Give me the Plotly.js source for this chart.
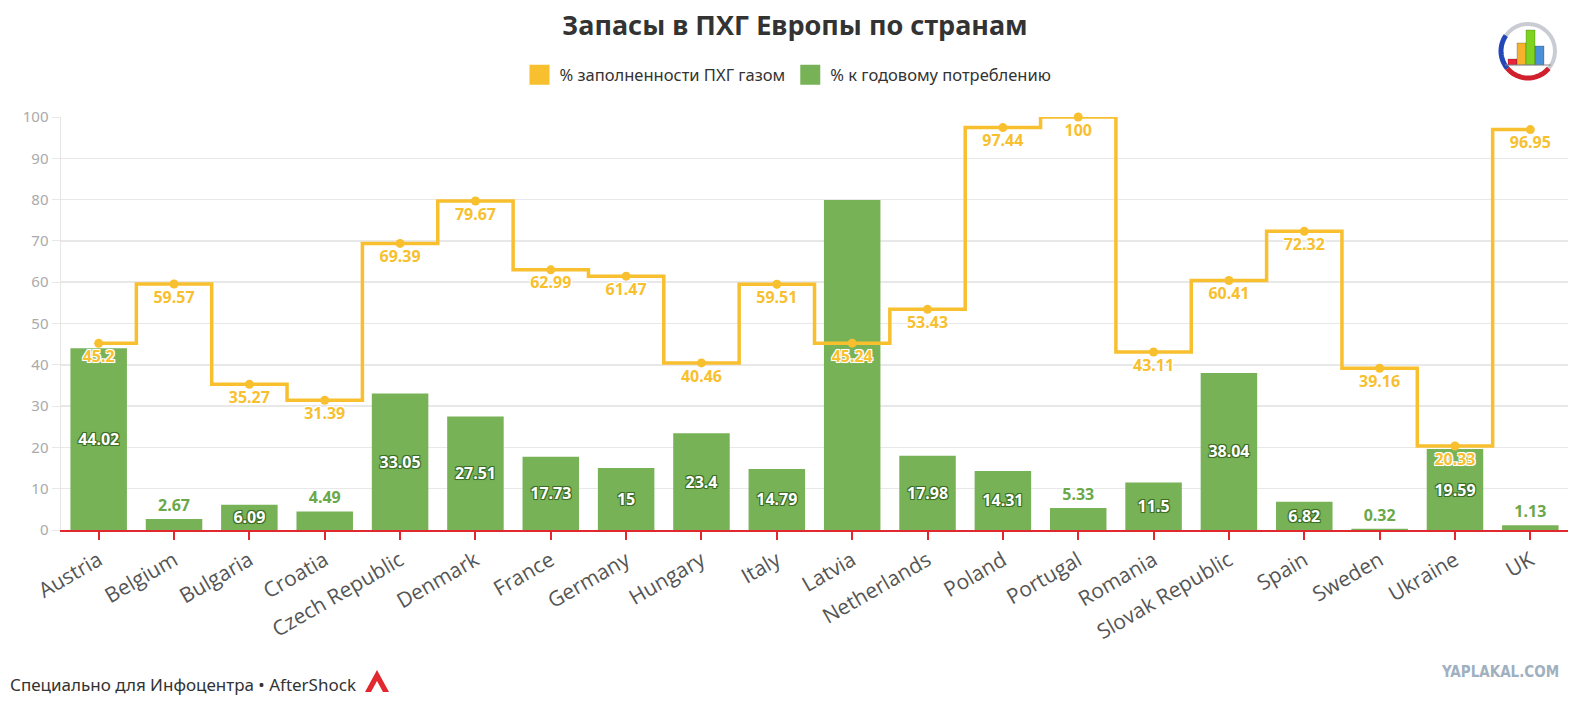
<!DOCTYPE html>
<html>
<head>
<meta charset="utf-8">
<script src="https://cdn.plot.ly/plotly-3.0.1.min.js"></script>
<style>html,body{margin:0;padding:0;background:#fff;overflow:hidden;width:1586px;height:702px;}#chart{width:1586px;height:702px;}</style>
</head>
<body>
<div id="chart"></div>
<script>
const countries = ["Austria","Belgium","Bulgaria","Croatia","Czech Republic","Denmark","France","Germany","Hungary","Italy","Latvia","Netherlands","Poland","Portugal","Romania","Slovak Republic","Spain","Sweden","Ukraine","UK"];
const fillPct = [45.2,59.57,35.27,31.39,69.39,79.67,62.99,61.47,40.46,59.51,45.24,53.43,97.44,100,43.11,60.41,72.32,39.16,20.33,96.95];
const consumptionPct = [44.02,2.67,6.09,4.49,33.05,27.51,17.73,15,23.4,14.79,79.9,17.98,14.31,5.33,11.5,38.04,6.82,0.32,19.59,1.13];
const hiddenBarLabels = ["Latvia"];
const seriesNames = ["% заполненности ПХГ газом", "% к годовому потреблению"];
const titleText = "Запасы в ПХГ Европы по странам";
const footerText = "Специально для Инфоцентра • AfterShock";
const watermarkText = "YAPLAKAL.COM";

const YELLOW = "#f8bf2f";
const GREEN = "#78b257";
const FONT = "Noto Sans, Open Sans, sans-serif";

const barText = consumptionPct.map((v,i) => hiddenBarLabels.includes(countries[i]) ? "" : String(v));
const barPos = consumptionPct.map(v => v < 6 ? "outside" : "inside");

const dg = "#3d6e26";
const darkOutline = `-1px -1px 0 ${dg}, 1px -1px 0 ${dg}, -1px 1px 0 ${dg}, 1px 1px 0 ${dg}, 0 0 2px ${dg}`;
const whiteOutline = "-1px -1px 0 #fff, 1px -1px 0 #fff, -1px 1px 0 #fff, 1px 1px 0 #fff, 0 0 2px #fff";

const traces = [
  {
    type: "bar", x: countries, y: consumptionPct, name: seriesNames[1], showlegend: false,
    marker: {color: GREEN}, text: barText, textposition: barPos, insidetextanchor: "middle",
    textangle: 0, constraintext: "none", cliponaxis: false, hoverinfo: "skip",
    insidetextfont: {family: FONT, size: 16, color: "#fff", weight: 700, shadow: darkOutline},
    outsidetextfont: {family: FONT, size: 16, color: "#6aa84a", weight: 700, shadow: whiteOutline}
  },
  {
    type: "scatter", mode: "lines+markers+text", x: countries, y: fillPct, name: seriesNames[0], showlegend: false,
    line: {color: YELLOW, width: 3.5, shape: "hvh"}, marker: {color: YELLOW, size: 9},
    text: fillPct.map(String), textposition: "bottom center", cliponaxis: false, hoverinfo: "skip",
    textfont: {family: FONT, size: 16, color: YELLOW, weight: 700, shadow: whiteOutline}
  },
  {type: "scatter", mode: "markers", x: [null], y: [null], name: seriesNames[0], marker: {color: YELLOW, size: 16, symbol: "square", line: {color: YELLOW, width: 4}}, showlegend: true, hoverinfo: "skip"},
  {type: "scatter", mode: "markers", x: [null], y: [null], name: seriesNames[1], marker: {color: GREEN, size: 16, symbol: "square", line: {color: GREEN, width: 4}}, showlegend: true, hoverinfo: "skip"}
];

// helpers to convert pixel positions to paper coords for decorations
const L = 61, R = 1568, T = 117, B = 530;
const px = p => (p - L) / (R - L);
const py = p => (B - p) / (B - T);

function arc(cx, cy, r, a0, a1) {
  let d = "";
  const n = 24;
  for (let i = 0; i <= n; i++) {
    const a = (a0 + (a1 - a0) * i / n) * Math.PI / 180;
    const x = cx + r * Math.cos(a), y = cy + r * Math.sin(a);
    d += (i === 0 ? "M " : " L ") + px(x) + " " + py(y);
  }
  return d;
}

const shapes = [];
// round logo top-right
const cx = 1528, cy = 51, r = 27;
shapes.push({type:"circle", xref:"paper", yref:"paper", x0:px(cx-r), x1:px(cx+r), y0:py(cy+r), y1:py(cy-r), line:{color:"#c9ccd3", width:4}, fillcolor:"#fff"});
shapes.push({type:"path", xref:"paper", yref:"paper", path: arc(cx, cy, r, 140, 215), line:{color:"#2447b8", width:5}});
shapes.push({type:"path", xref:"paper", yref:"paper", path: arc(cx, cy, r, 40, 140), line:{color:"#d0202e", width:5}});
const logoBars = [[1508,1517,59,"#e8233a"],[1517,1526,43,"#f6b22b"],[1526,1535,30,"#7ed321"],[1535,1544,46,"#4a90d9"]];
logoBars.forEach(b => shapes.push({type:"rect", xref:"paper", yref:"paper", x0:px(b[0]), x1:px(b[1]), y0:py(65), y1:py(b[2]), fillcolor:b[3], line:{color:"rgba(0,0,0,0.2)", width:1}}));
shapes.push({type:"line", xref:"paper", yref:"paper", x0:px(1505), x1:px(1551), y0:py(65), y1:py(65), line:{color:"#888", width:1}});
// small red AfterShock logo
shapes.push({type:"path", xref:"paper", yref:"paper",
  path:`M ${px(365)} ${py(692)} L ${px(377)} ${py(670)} L ${px(389)} ${py(692)} Z`, fillcolor:"#e0282e", line:{width:0}});
shapes.push({type:"path", xref:"paper", yref:"paper",
  path:`M ${px(371)} ${py(692)} L ${px(377)} ${py(681)} L ${px(383)} ${py(692)} Z`, fillcolor:"#fff", line:{width:0}});

const layout = {
  width: 1586, height: 702,
  paper_bgcolor: "#fff", plot_bgcolor: "#fff",
  margin: {l: L, r: 1586 - R, t: T, b: 702 - B},
  title: {text: titleText, x: 795/1586, xref: "container", xanchor: "center", y: 1 - 26/702, yref: "container", yanchor: "middle",
    font: {family: FONT, size: 27, color: "#333", weight: 700}},
  showlegend: true,
  legend: {orientation: "h", x: 788/1586, xref: "container", xanchor: "center", y: 1 - 75/702, yref: "container", yanchor: "middle",
    font: {family: FONT, size: 16.5, color: "#333"}, traceorder: "normal", itemclick: false, itemdoubleclick: false, itemwidth: 30},
  barmode: "overlay", bargap: 0.25,
  xaxis: {type: "category", range: [-0.5, countries.length - 0.5], autorange: false, tickangle: -30,
    tickfont: {family: "Open Sans, sans-serif", size: 21, color: "#555"},
    showline: true, linecolor: "#e0282e", linewidth: 2, ticks: "outside", tickcolor: "#e0282e", ticklen: 8, tickwidth: 2,
    showgrid: false, fixedrange: true, zeroline: false, automargin: false},
  yaxis: {range: [0, 100], autorange: false, dtick: 10, tick0: 0, tickfont: {family: FONT, size: 15, color: "#aaa"},
    showgrid: true, gridcolor: "#e8e8e8", gridwidth: 1.5, showline: true, linecolor: "#e6e6e6", linewidth: 1.5,
    ticks: "outside", ticklen: 8, tickcolor: "#e8e8e8", zeroline: false, fixedrange: true, automargin: false},
  shapes: shapes,
  annotations: [
    {text: footerText, xref: "paper", yref: "paper", x: px(8), y: py(684), xanchor: "left", yanchor: "middle", showarrow: false,
      font: {family: FONT, size: 17, color: "#333"}},
    {text: watermarkText, xref: "paper", yref: "paper", x: px(1561), y: py(672), xanchor: "right", yanchor: "middle", showarrow: false,
      font: {family: "DejaVu Sans Condensed, DejaVu Sans, sans-serif", size: 15, color: "#9fb0c0", weight: 700}}
  ]
};

Plotly.newPlot("chart", traces, layout, {displayModeBar: false, staticPlot: true});
</script>
</body>
</html>
